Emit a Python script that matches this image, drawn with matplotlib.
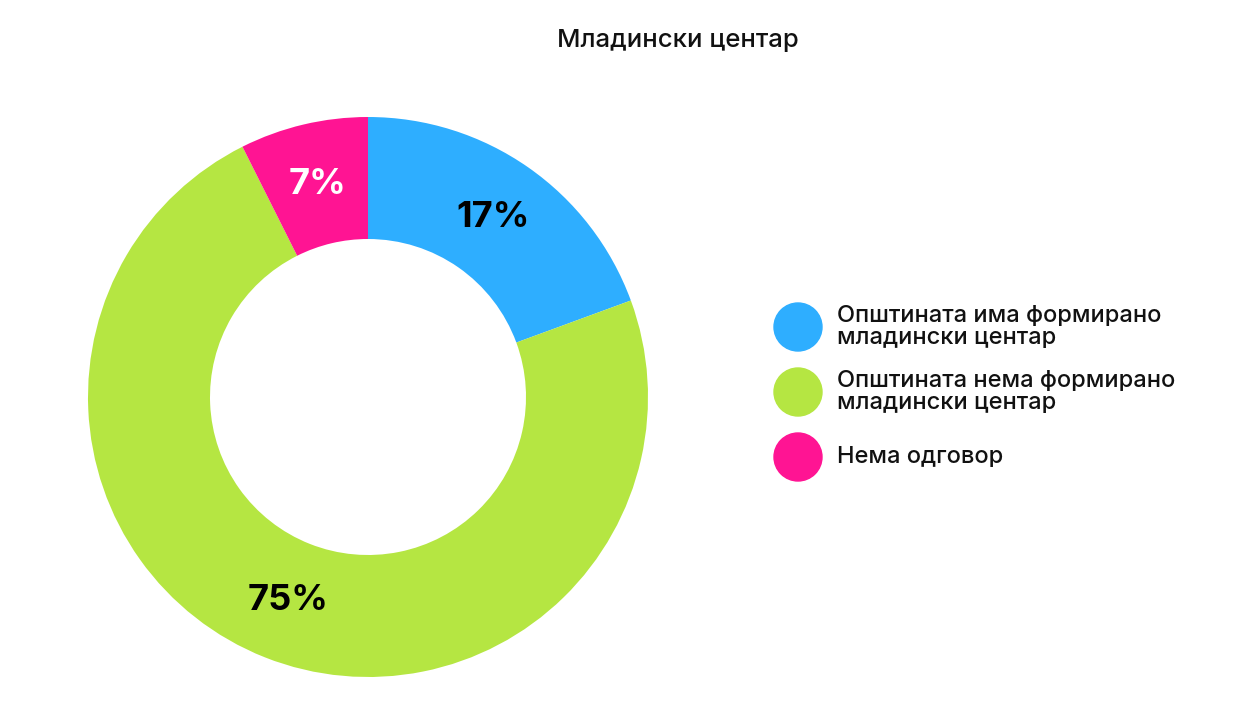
import matplotlib
matplotlib.use("Agg")
import matplotlib.pyplot as plt
import numpy as np
from matplotlib.patches import Circle

plt.rcParams['font.family'] = ['Inter', 'DejaVu Sans']

# values, labels as printed on the chart
categories = ['Општината има формирано\nмладински центар',
              'Општината нема формирано\nмладински центар',
              'Нема одговор']
shares = [19.4, 73.2, 7.4]
pct_labels = ['17%', '75%', '7%']
colors = ['#2eaeff', '#b5e642', '#ff1493']
label_colors = ['black', 'black', 'white']
title = 'Младински центар'

W, H = 1251, 707
fig = plt.figure(figsize=(W / 100, H / 100), dpi=100)

cx, cy, r = 368, 397, 280
ax = fig.add_axes([(cx - r) / W, (H - cy - r) / H, 2 * r / W, 2 * r / H])
wedges, _ = ax.pie(shares, colors=colors, startangle=90, counterclock=False,
                   radius=1.0, wedgeprops=dict(width=1.0 - 158 / 280, linewidth=0))
ax.set_xlim(-1, 1)
ax.set_ylim(-1, 1)
ax.set_aspect('equal')
ax.axis('off')

mid_r = 0.78
for w, lab, col in zip(wedges, pct_labels, label_colors):
    ang = np.deg2rad((w.theta1 + w.theta2) / 2)
    ax.text(mid_r * np.cos(ang), mid_r * np.sin(ang), lab, ha='center', va='center',
            fontsize=26, fontweight='bold', color=col)

fig.text(678 / W, 1 - 40 / H, title, ha='center', va='center', fontsize=18.5,
         fontweight='medium', color='#111111')

# manual legend, circles in pixel units so they stay round
leg_y = [327, 392, 457]
for cat, col, y in zip(categories, colors, leg_y):
    fig.patches.append(Circle((798 / 100, (H - y) / 100), 24 / 100, color=col,
                              transform=fig.dpi_scale_trans))
    fig.text(837 / W, 1 - y / H, cat, ha='left', va='center', fontsize=17,
             fontweight='medium', linespacing=0.95, color='#111111')

fig.savefig('out.png', dpi=100, facecolor='white')
